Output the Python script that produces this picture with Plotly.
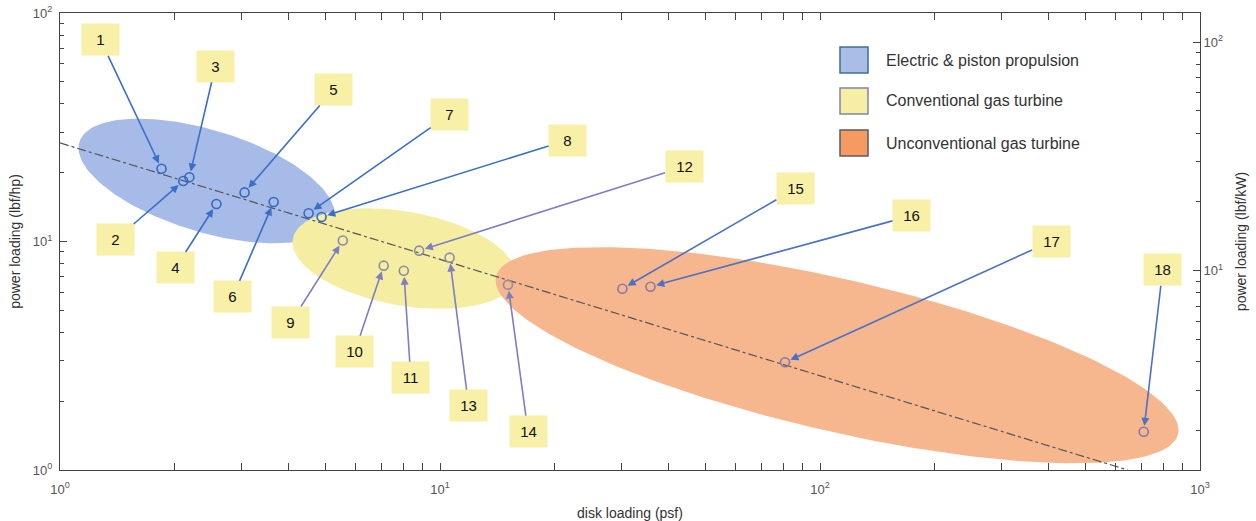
import numpy as np
import plotly.graph_objects as go

# ---------------- data ----------------
POINT_IDS = [str(i) for i in range(1, 19)]
DISK_LOADING = [1.85, 2.11, 2.19, 2.58, 3.06, 3.65, 4.51, 4.88, 5.55, 7.11,
                8.03, 8.81, 10.6, 15.1, 30.2, 35.8, 80.9, 711]
POWER_LOADING = [20.8, 18.4, 19.1, 14.6, 16.4, 14.9, 13.3, 12.8, 10.1, 7.84,
                 7.45, 9.12, 8.50, 6.47, 6.21, 6.34, 2.96, 1.47]
GROUP = [0, 0, 0, 0, 0, 0, 0, 0, 1, 1, 1, 1, 1, 1, 2, 2, 2, 2]
GROUP_NAMES = ["Electric & piston propulsion", "Conventional gas turbine",
               "Unconventional gas turbine"]

# trend line (dash-dot) end points
TREND_X = [1.0, 645.0]
TREND_Y = [27.0, 1.0]

# region ellipses: centre (data units), semi-axes (px), tilt (deg, clockwise on screen)
ELL_CENTER_X = [2.43, 8.04, 110.9]
ELL_CENTER_Y = [18.4, 8.42, 3.18]
ELL_A = [133, 113, 350]
ELL_B = [51, 47, 76]
ELL_TILT = [17, 10, 13]

HP_TO_KW = 0.7457

# ---------------- style ----------------
W, H = 1256, 521
ML, MR, MT, MB = 60, 56, 13, 51
PW, PH = W - ML - MR, H - MT - MB
XDEC, YDEC = 3.0, 2.0
PX_PER_XDEC = PW / XDEC
PX_PER_YDEC = PH / YDEC

ELL_FILL = ["#a7bbe9", "#f5eea2", "#f7b78e"]
SWATCH_FILL = ["#a9bde6", "#f6eea4", "#f59a60"]
SWATCH_LINE = ["#3f6f94", "#7f86a8", "#5a5a6a"]
MARKER_COLOR = ["#3469c0", "#8e8aa6", "#8878a6"]
ARROW_COLOR = ["#3a6fc6", "#7d7fc2", "#4a70c8"]
LABEL_BG = "#f7f0a6"
FONT = "Liberation Sans, Arial, sans-serif"

# label offsets from point (px)
LABEL_DX = [-61, -68, 26, -41, 89, -41, 141, 246, -52, -29, 7, 265, 19, 20, 173, 261, 266, 19]
LABEL_DY = [-129, 59, -111, 64, -103, 95, -99, -77, 82, 86, 107, -84, 148, 147, -100, -71, -121, -162]

fig = go.Figure()

# ellipses
for k in range(3):
    t = np.linspace(0, 2 * np.pi, 200)
    th = np.radians(ELL_TILT[k])
    dx = ELL_A[k] * np.cos(t) * np.cos(th) - ELL_B[k] * np.sin(t) * np.sin(th)
    dy = ELL_A[k] * np.cos(t) * np.sin(th) + ELL_B[k] * np.sin(t) * np.cos(th)
    lx = np.log10(ELL_CENTER_X[k]) + dx / PX_PER_XDEC
    ly = np.log10(ELL_CENTER_Y[k]) - dy / PX_PER_YDEC
    fig.add_trace(go.Scatter(x=10 ** lx, y=10 ** ly, mode="lines", fill="toself",
                             fillcolor=ELL_FILL[k], line=dict(width=0, color=ELL_FILL[k]),
                             hoverinfo="skip", showlegend=False))

# trend line
fig.add_trace(go.Scatter(x=TREND_X, y=TREND_Y, mode="lines",
                         line=dict(color="#555555", width=1.2, dash="dashdot"),
                         showlegend=False, hoverinfo="skip"))

# points
for k in range(3):
    idx = [i for i, g in enumerate(GROUP) if g == k]
    fig.add_trace(go.Scatter(
        x=[DISK_LOADING[i] for i in idx], y=[POWER_LOADING[i] for i in idx],
        mode="markers", showlegend=False,
        marker=dict(symbol="circle-open", size=9, color=MARKER_COLOR[k],
                    line=dict(width=1.6, color=MARKER_COLOR[k])),
        text=[POINT_IDS[i] for i in idx]))

# dummy trace for secondary axis
fig.add_trace(go.Scatter(x=[None], y=[None], yaxis="y2", showlegend=False))

annotations = []
for i in range(18):
    g = GROUP[i]
    annotations.append(dict(
        x=np.log10(DISK_LOADING[i]), y=np.log10(POWER_LOADING[i]), xref="x", yref="y",
        text=POINT_IDS[i], showarrow=True, ax=LABEL_DX[i], ay=LABEL_DY[i],
        arrowhead=2, arrowsize=1, arrowwidth=1.6, arrowcolor=ARROW_COLOR[g], standoff=6,
        bgcolor=LABEL_BG, width=33, height=27, borderpad=2,
        font=dict(family=FONT, size=15, color="#111111")))


def px2paper(px, py):
    return (px - ML) / PW, (H - MB - py) / PH


shapes = []
LEG_Y = [60, 101, 143]
for k in range(3):
    x0, y0 = px2paper(840, LEG_Y[k] + 13)
    x1, y1 = px2paper(868, LEG_Y[k] - 13)
    shapes.append(dict(type="rect", xref="paper", yref="paper", x0=x0, x1=x1, y0=y0, y1=y1,
                       fillcolor=SWATCH_FILL[k], line=dict(color=SWATCH_LINE[k], width=1.5)))
    tx, ty = px2paper(884, LEG_Y[k])
    annotations.append(dict(x=tx, y=ty, xref="paper", yref="paper", text=GROUP_NAMES[k],
                            showarrow=False, xanchor="left", yanchor="middle",
                            font=dict(family=FONT, size=16, color="#333333")))

tick_font = dict(family=FONT, size=13, color="#555555")
axis_common = dict(type="log", showgrid=False, zeroline=False, showline=True,
                   linecolor="#444444", linewidth=1, ticks="inside", ticklen=7,
                   tickcolor="#444444", tickfont=tick_font, automargin=False)

fig.update_layout(
    width=W, height=H, margin=dict(l=ML, r=MR, t=MT, b=MB),
    paper_bgcolor="white", plot_bgcolor="white",
    font=dict(family=FONT),
    xaxis=dict(**axis_common, range=[0, 3], mirror="allticks",
               tickvals=[1, 10, 100, 1000],
               ticktext=["10<sup>0</sup>", "10<sup>1</sup>", "10<sup>2</sup>", "10<sup>3</sup>"],
               ticklabelstandoff=7,
               minor=dict(ticks="inside", ticklen=4, tickcolor="#444444", dtick="D1"),
               title=dict(text="disk loading (psf)", standoff=12,
                          font=dict(family=FONT, size=14, color="#333333"))),
    yaxis=dict(**axis_common, range=[0, 2], mirror=True,
               tickvals=[1, 10, 100],
               ticktext=["10<sup>0</sup>", "10<sup>1</sup>", "10<sup>2</sup>"],
               ticklabelstandoff=4,
               minor=dict(ticks="inside", ticklen=4, tickcolor="#444444", dtick="D1"),
               title=dict(text="power loading (lbf/hp)", standoff=8,
                          font=dict(family=FONT, size=14, color="#333333"))),
    yaxis2=dict(**axis_common, overlaying="y", side="right",
                range=[np.log10(1 / HP_TO_KW), np.log10(100 / HP_TO_KW)],
                tickvals=[10, 100],
                ticktext=["10<sup>1</sup>", "10<sup>2</sup>"],
                minor=dict(ticks="inside", ticklen=4, tickcolor="#444444", dtick="D1"),
                title=dict(text="power loading (lbf/kW)", standoff=14,
                           font=dict(family=FONT, size=14, color="#333333"))),
    annotations=annotations, shapes=shapes,
)

fig.write_html("out.html")
